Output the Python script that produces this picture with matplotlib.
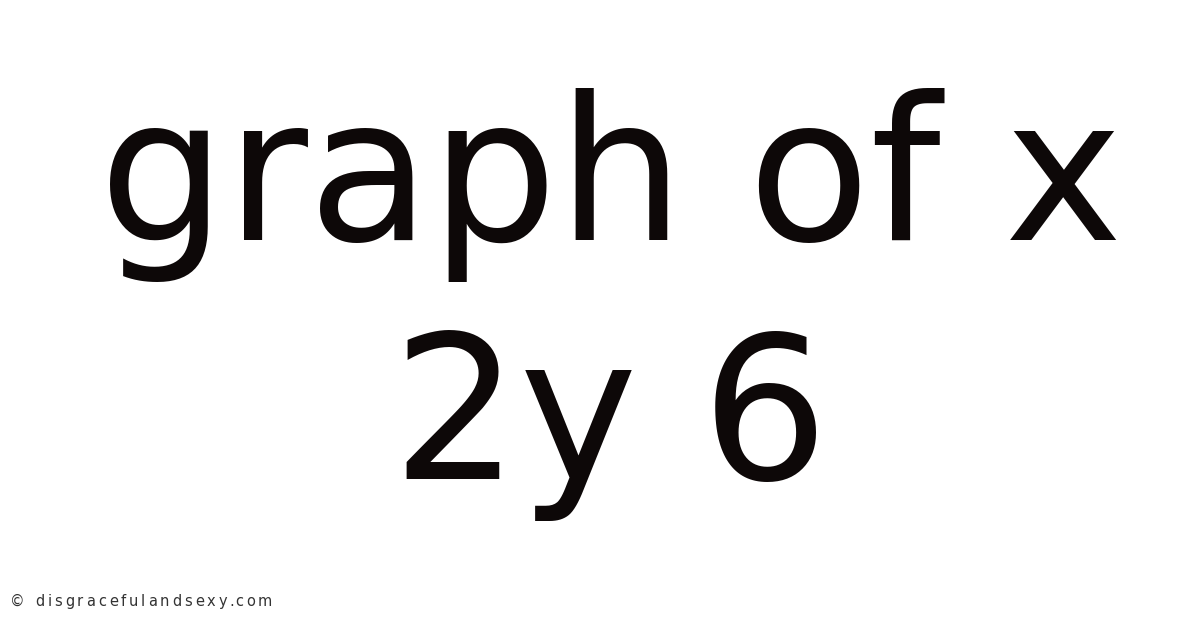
import matplotlib

matplotlib.use("Agg")

import matplotlib.pyplot as plt
from matplotlib.font_manager import FontProperties

TITLE_LINES = ["graph of x", "2y 6"]
WATERMARK = "\u00a9 disgracefulandsexy.com"

TEXT_COLOR = "#0d0808"
W, H, DPI = 1200, 628, 100

fig = plt.figure(figsize=(W / DPI, H / DPI), dpi=DPI)
fig.patch.set_facecolor("white")

# baselines in pixels from top
baselines = [240, 479]
for line, base in zip(TITLE_LINES, baselines):
    fig.text(0.509, 1 - base / H, line, ha="center", va="baseline",
             fontsize=144, family="DejaVu Sans", color=TEXT_COLOR)

# watermark is letter-spaced, so lay it out one glyph at a time
renderer = fig.canvas.get_renderer()
wm_font = FontProperties(family="DejaVu Sans", size=10.5)
spacing = 2.9


def text_width(s):
    w_ref = renderer.get_text_width_height_descent("l", wm_font, ismath=False)[0]
    w = renderer.get_text_width_height_descent(s + "l", wm_font, ismath=False)[0]
    return w - w_ref


x0 = 10
for i, ch in enumerate(WATERMARK):
    x = x0 + text_width(WATERMARK[:i]) + i * spacing
    fig.text(x / W, 1 - 606 / H, ch, ha="left", va="baseline",
             fontproperties=wm_font, color="#333333")

fig.savefig("out.png", dpi=DPI, facecolor="white")
plt.close(fig)
